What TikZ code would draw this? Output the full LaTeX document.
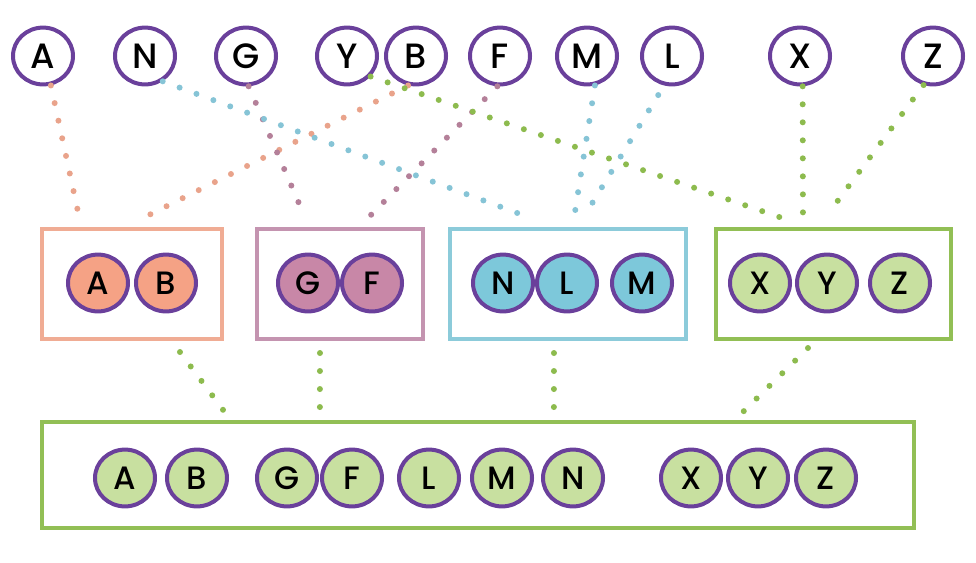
\documentclass[tikz,border=0pt]{standalone}
\usepackage{fontspec}
\setmainfont{Poppins Medium}
\usetikzlibrary{shapes.geometric, calc}

\definecolor{ringpurple}{RGB}{106,64,155}
\definecolor{abfill}{RGB}{245,162,133}
\definecolor{abline}{RGB}{240,172,148}
\definecolor{abdots}{RGB}{233,163,139}
\definecolor{gffill}{RGB}{200,135,167}
\definecolor{gfline}{RGB}{196,148,176}
\definecolor{gfdots}{RGB}{180,128,153}
\definecolor{nlmfill}{RGB}{125,200,218}
\definecolor{nlmline}{RGB}{140,203,218}
\definecolor{nlmdots}{RGB}{134,196,214}
\definecolor{xyzfill}{RGB}{200,224,160}
\definecolor{xyzline}{RGB}{146,191,85}
\definecolor{xyzdots}{RGB}{141,187,78}

\tikzstyle{single} = [ellipse, draw=ringpurple, line width=0.1cm, minimum width=1.5cm, minimum height=1.42cm, inner sep=0pt, fill=white, font=\fontsize{25}{25}\selectfont]
\tikzstyle{member} = [ellipse, draw=ringpurple, line width=0.1cm, minimum width=1.5cm, minimum height=1.42cm, inner sep=0pt, font=\fontsize{23}{23}\selectfont]
\tikzstyle{group} = [rectangle, line width=0.1cm, inner sep=0pt, minimum height=2.75cm]
\tikzstyle{link} = [line width=0.15cm, line cap=round, dash pattern=on 0pt off 0.45cm]

\begin{document}
\begin{tikzpicture}[x=0.025cm, y=-0.025cm]
	\useasboundingbox (0,0) rectangle (976,562);

	% Singletons
	\node (topa) [single] at (43,56) {A};
	\node (topn) [single] at (145,56) {N};
	\node (topg) [single] at (246,56) {G};
	\node (topy) [single] at (347,56) {Y};
	\node (topb) [single] at (416,56) {B};
	\node (topf) [single] at (500,56) {F};
	\node (topm) [single] at (587,56) {M};
	\node (topl) [single] at (672,56) {L};
	\node (topx) [single] at (800,56) {X};
	\node (topz) [single] at (933,56) {Z};

	% Groups
	\node (grpab) [group, draw=abline, minimum width=4.5cm] at (132,284) {};
	\node (grpgf) [group, draw=gfline, minimum width=4.15cm] at (340,284) {};
	\node (grpnlm) [group, draw=nlmline, minimum width=5.9cm] at (568,284) {};
	\node (grpxyz) [group, draw=xyzline, minimum width=5.875cm] at (833.5,284) {};
	\node (merged) [group, draw=xyzline, minimum width=21.8cm, minimum height=2.65cm] at (478,475) {};

	\node (mida) [member, fill=abfill] at (98,283) {A};
	\node (midb) [member, fill=abfill] at (166,283) {B};
	\node (midg) [member, fill=gffill] at (308,283) {G};
	\node (midf) [member, fill=gffill] at (372,283) {F};
	\node (midn) [member, fill=nlmfill] at (503,283) {N};
	\node (midl) [member, fill=nlmfill] at (567,283) {L};
	\node (midm) [member, fill=nlmfill] at (642,283) {M};
	\node (midx) [member, fill=xyzfill] at (760,283) {X};
	\node (midy) [member, fill=xyzfill] at (827,283) {Y};
	\node (midz) [member, fill=xyzfill] at (900,283) {Z};

	\node (bota) [member, fill=xyzfill] at (125,478) {A};
	\node (botb) [member, fill=xyzfill] at (197,478) {B};
	\node (botg) [member, fill=xyzfill] at (287,478) {G};
	\node (botf) [member, fill=xyzfill] at (352,478) {F};
	\node (botl) [member, fill=xyzfill] at (429,478) {L};
	\node (botm) [member, fill=xyzfill] at (502,478) {M};
	\node (botn) [member, fill=xyzfill] at (573,478) {N};
	\node (botx) [member, fill=xyzfill] at (691,478) {X};
	\node (boty) [member, fill=xyzfill] at (758,478) {Y};
	\node (botz) [member, fill=xyzfill] at (826,478) {Z};

	% Links
	\draw [link, draw=abdots] (topa.-75) -- ($(grpab.north west)+(40,-6)$);
	\draw [link, draw=abdots] (topb.-105) -- ($(grpab.north west)+(101,-8)$);
	\draw [link, draw=gfdots] (topg.-85) -- ($(grpgf.north west)+(49,-12)$);
	\draw [link, draw=gfdots] (topf.-95) -- ($(grpgf.north west)+(113,-9)$);
	\draw [link, draw=nlmdots] (topn.-55) -- ($(grpnlm.north west)+(80,-10)$);
	\draw [link, draw=nlmdots] (topm.-75) -- ($(grpnlm.north west)+(127,-15)$);
	\draw [link, draw=nlmdots, shorten <=8] (topl.-105) -- ($(grpnlm.north west)+(137,-12)$);
	\draw [link, draw=xyzdots] (topy.-41) -- ($(grpxyz.north west)+(74,-7)$);
	\draw [link, draw=xyzdots] (topx.-85) -- ($(grpxyz.north west)+(89,-5)$);
	\draw [link, draw=xyzdots] (topz.-108) -- ($(grpxyz.north west)+(114,-13)$);

	\draw [link, draw=xyzdots] ($(grpab.south west)+(140,11)$) -- ($(merged.north west)+(184,-9)$);
	\draw [link, draw=xyzdots] ($(grpgf.south west)+(65,12)$) -- ($(merged.north west)+(280,-12)$);
	\draw [link, draw=xyzdots] ($(grpnlm.south west)+(106,12)$) -- ($(merged.north west)+(514,-12)$);
	\draw [link, draw=xyzdots] ($(grpxyz.south west)+(94,7)$) -- ($(merged.north west)+(702,-7)$);

\end{tikzpicture}
\end{document}
